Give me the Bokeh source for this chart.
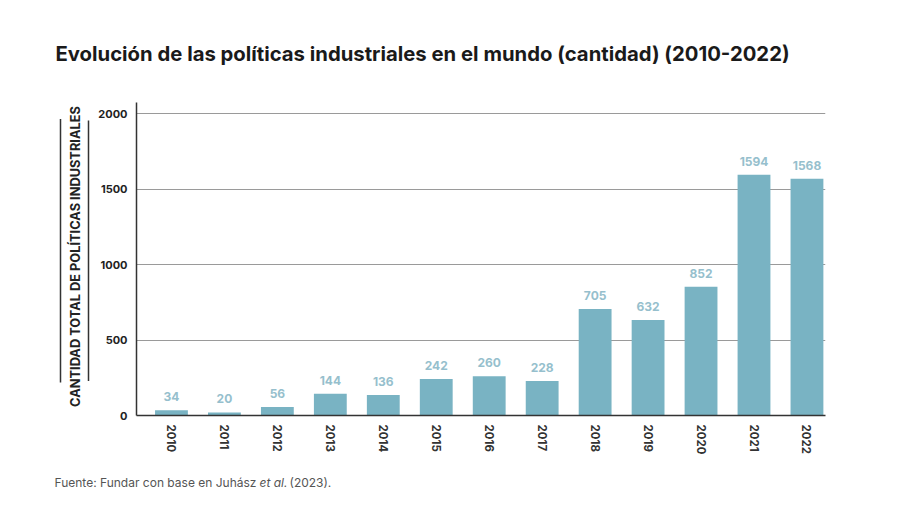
import math
from bokeh.plotting import figure
from bokeh.layouts import column, row
from bokeh.models import ColumnDataSource, Range1d
from bokeh.core.properties import value
from bokeh.embed import file_html
from bokeh.resources import INLINE

# ---- data ----
years = [2010, 2011, 2012, 2013, 2014, 2015, 2016, 2017, 2018, 2019, 2020, 2021, 2022]
counts = [34, 20, 56, 144, 136, 242, 260, 228, 705, 632, 852, 1594, 1568]
y_ticks = [0, 500, 1000, 1500, 2000]
title_text = "Evolución de las políticas industriales en el mundo (cantidad) (2010-2022)"
y_label = "CANTIDAD TOTAL DE POLÍTICAS INDUSTRIALES"
source_parts = ["Fuente: Fundar con base en Juhász", "et al.", "(2023)."]
source_styles = ["normal", "italic", "normal"]

FONT = "Inter"
BAR = "#79b3c3"
DARK = "#222222"
W = 884


def blank(width, height, y0, y1, x1):
    f = figure(width=width, height=height, output_backend="svg", toolbar_location=None,
               x_range=Range1d(0, x1), y_range=Range1d(y1, y0),
               x_axis_location=None, y_axis_location=None,
               min_border_left=0, min_border_right=0, min_border_top=0, min_border_bottom=0)
    f.grid.visible = False
    f.outline_line_color = None
    f.background_fill_color = "white"
    f.border_fill_color = "white"
    return f


# ---- title strip (page y 0..80) ----
top = blank(W, 80, 0, 80, W)
top.text(x=[55], y=[53], text=[title_text], text_font=value(FONT), text_font_size="20.3px",
         text_font_style="bold", text_color="#1a1a1a", text_baseline="alphabetic",
         text_align="left")

# ---- side strip with the axis title (page x 0..92, y 80..460) ----
side = blank(92, 380, 80, 460, 92)
side.segment(x0=[60, 88], y0=[100, 102], x1=[60, 88], y1=[420, 418],
             line_color="#333333", line_width=1.5)
side.text(x=[75], y=[267], text=[y_label], angle=math.pi / 2, text_font=value(FONT),
          text_font_size="12.8px", text_font_style="bold", text_color=DARK,
          text_align="center", text_baseline="middle")

# ---- main chart ----
src = ColumnDataSource(dict(x=years, top=counts, label=[str(c) for c in counts]))

p = figure(width=W - 92, height=380, output_backend="svg", toolbar_location=None,
           x_range=Range1d(2009.34, 2022.35), y_range=Range1d(0, 2073),
           min_border_left=44, min_border_right=59, min_border_top=22,
           min_border_bottom=45)
p.outline_line_color = None
p.background_fill_color = "white"
p.border_fill_color = "white"

p.vbar(x="x", top="top", width=0.62, source=src, fill_color=BAR, line_color=None)
p.text(x="x", y="top", text="label", source=src, text_align="center",
       text_baseline="bottom", y_offset=-9, text_font=value(FONT),
       text_font_size="12px", text_font_style="bold", text_color="#96bfcd")

p.xgrid.visible = False
p.ygrid.ticker = y_ticks
p.ygrid.grid_line_color = "#9a9a9a"
p.ygrid.grid_line_width = 1.2

ya = p.yaxis[0]
ya.ticker = y_ticks
ya.major_tick_line_color = None
ya.minor_tick_line_color = None
ya.major_tick_out = 0
ya.major_label_standoff = 9
ya.axis_line_color = "#333333"
ya.axis_line_width = 1.5
ya.major_label_text_font = FONT
ya.major_label_text_font_size = "11px"
ya.major_label_text_font_style = "bold"
ya.major_label_text_color = DARK

xa = p.xaxis[0]
xa.ticker = years
xa.major_label_orientation = "vertical"
xa.major_tick_line_color = None
xa.minor_tick_line_color = None
xa.major_tick_out = 0
xa.major_label_standoff = 9
xa.axis_line_color = "#333333"
xa.axis_line_width = 1.5
xa.major_label_text_font = FONT
xa.major_label_text_font_size = "11.5px"
xa.major_label_text_font_style = "bold"
xa.major_label_text_color = "#333333"

# ---- source strip (page y 460..497) ----
bot = blank(W, 37, 460, 497, W)
bot.text(x=[54, 259, 289], y=[482, 482, 482], text=source_parts,
         text_font_style=source_styles, text_font=value(FONT), text_font_size="12px",
         text_color="#555555", text_baseline="alphabetic", text_align="left")

layout = column(top, row(side, p), bot)
open("out.html", "w").write(file_html(layout, INLINE))
